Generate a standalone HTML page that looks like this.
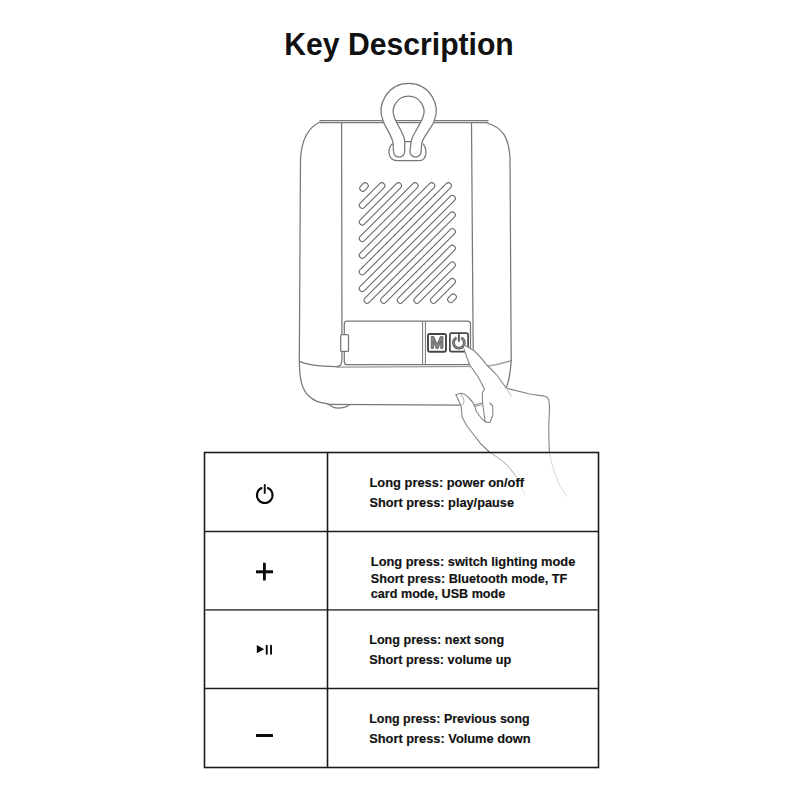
<!DOCTYPE html>
<html>
<head>
<meta charset="utf-8">
<style>
html,body{margin:0;padding:0;background:#fff;width:800px;height:800px;overflow:hidden;}
svg{position:absolute;left:0;top:0;display:block;}
.t{font-family:"Liberation Sans",sans-serif;font-weight:bold;fill:#111;}
.d{fill:none;stroke:#777;stroke-width:1.25;stroke-linecap:round;stroke-linejoin:round;}
.h{fill:none;stroke:#6a6a6a;stroke-width:0.9;stroke-linecap:round;stroke-linejoin:round;}
</style>
</head>
<body>
<svg width="800" height="800" viewBox="0 0 800 800">
  <!-- Title -->
  <text class="t" x="284.3" y="54.6" font-size="31.5" textLength="229.5" lengthAdjust="spacingAndGlyphs">Key Description</text>

  <!-- ===== Speaker drawing ===== -->
  <g class="d">
    <!-- top lines -->
    <path d="M320 120.6 L488 120.6"/>
    <path d="M320 122.6 L488 122.6"/>
    <!-- left outer -->
    <path d="M320 122 C309 127 302 138 300.5 158 L299.3 361.4 C299.5 372 300.5 381 302.6 386.6 C304.5 391 306 393.5 308.3 395.5 C311 398 313.5 400 316.4 401.2 C320 402.7 323.5 403.3 327 403.7 C329 404 330 405 331.5 406.3 C333.5 407.6 335.5 408.1 337.5 408.1 C340.5 408.1 343 407.7 345 407.1 C346.8 406.5 348 405.5 349.5 404.8"/>
    <!-- bottom line -->
    <path d="M328 404.4 L461 405.2"/>
    <!-- left inner vertical -->
    <path d="M341.6 123 L342 358 C342 361 341.6 363 340.8 364.6 C340 366 338 366.7 335.9 366.7 C331 366.6 326 366.3 320.5 365.9 C316 365.5 312 365 308.3 364.2 C305.5 363.6 303 362.8 299.3 361.4"/>
    <!-- separation line -->
    <path d="M336.7 367.1 L486 366.4 C496 365.2 504 363 511 360.7" style="stroke:#999"/>
    <!-- right inner vertical -->
    <path d="M471.5 123 L473.3 366"/>
    <!-- right outer -->
    <path d="M488 123.5 C502 127.5 509 137 510 158 L511.2 361 C510.5 372 509 381 506 388.5"/>
    <!-- lid -->
    <path d="M347.3 321.2 L467.5 321.2 Q470.5 321.2 470.5 324.2 L470.5 361.7 Q470.5 364.7 467.5 364.7 L347.3 364.7 Q344.3 364.7 344.3 361.7 L344.3 324.2 Q344.3 321.2 347.3 321.2 Z" fill="#fff"/>
    <!-- hinge tab -->
    <rect x="340.7" y="334.5" width="7.8" height="16.9" rx="1" style="fill:#fff"/>
    <path d="M422.6 321.5 L422.6 364.5" style="stroke-width:1"/>
    <path d="M425.4 321.5 L425.4 364.5" style="stroke-width:1"/>
  </g>

  <!-- buttons -->
  <rect x="428" y="334" width="18" height="17.7" rx="1.5" fill="#fff" stroke="#464646" stroke-width="1.9"/>
  <path d="M431.2 348.4 L431.2 336.6 L433.9 336.6 L437.1 344.2 L440.3 336.6 L443 336.6 L443 348.4 L440.7 348.4 L440.7 341.2 L438.3 348.4 L435.9 348.4 L433.5 341.2 L433.5 348.4 Z" fill="#858585" stroke="#555" stroke-width="0.7" stroke-linejoin="round"/>
  <rect x="449.9" y="333.2" width="18.2" height="18.5" rx="1.5" fill="#fff" stroke="#464646" stroke-width="1.7"/>
  <path d="M456.49 337.66 A5.5 5.5 0 1 0 461.31 337.66" fill="none" stroke="#555" stroke-width="2.8"/>
  <path d="M456.49 337.66 A5.5 5.5 0 1 0 461.31 337.66" fill="none" stroke="#a0a0a0" stroke-width="0.9"/>
  <path d="M458.9 334.9 L458.9 341" fill="none" stroke="#555" stroke-width="1.9" stroke-linecap="round"/>

  <!-- grille -->
  <g id="grille"><path d="M362.80 188.20L365.20 185.80M362.30 205.32L381.82 185.80M362.30 221.95L398.45 185.80M362.30 238.57L415.07 185.80M362.30 255.20L431.70 185.80M362.30 271.82L448.32 185.80M362.30 288.45L452.30 198.45M367.07 300.30L452.30 215.07M383.70 300.30L452.30 231.70M400.32 300.30L452.30 248.32M416.95 300.30L452.30 264.95M433.57 300.30L452.30 281.57M450.70 299.60L453.30 297.00" fill="none" stroke="#6a6a6a" stroke-width="7.06" stroke-linecap="round"/><path d="M362.80 188.20L365.20 185.80M362.30 205.32L381.82 185.80M362.30 221.95L398.45 185.80M362.30 238.57L415.07 185.80M362.30 255.20L431.70 185.80M362.30 271.82L448.32 185.80M362.30 288.45L452.30 198.45M367.07 300.30L452.30 215.07M383.70 300.30L452.30 231.70M400.32 300.30L452.30 248.32M416.95 300.30L452.30 264.95M433.57 300.30L452.30 281.57M450.70 299.60L453.30 297.00" fill="none" stroke="#fff" stroke-width="4.86" stroke-linecap="round"/></g>

  <!-- handle recess -->
  <path class="d" d="M392.4 144 C389.5 146 389 150 389 152.5 C389 157.5 392.5 160.7 397 160.7 L419 160.7 C423.5 160.7 426 157 426 152.5 C426 149 425 146 423.5 144"/>
  <!-- handle -->
  <path class="d" style="fill:#fff" d="M399.1 157.1 A5.6 5.6 0 0 1 393.5 151.5 L393.2 144 C393 138 386.7 129.3 383.5 122 A27.5 27.5 0 1 1 433.8 122 C430.6 129.3 422.2 138 421.7 144 L421.1 151.5 A5.6 5.6 0 0 1 415.5 157.1 A5.6 5.6 0 0 1 409.9 151.5 L411.1 141.5 C412.7 134 419.5 126.4 423 117 A15.4 15.4 0 1 0 394.2 117 C397.7 126.4 404.5 134 404.75 141.5 L404.7 151.5 A5.6 5.6 0 0 1 399.1 157.1 Z"/>
  <path class="d" d="M404.75 141.5 L411.1 141.5"/>

  <!-- hand -->
  <path style="fill:#fff;stroke:none" d="M464.75 345.25 C468 347 471 349 473.75 350.5 C479 355 483 360 486.5 364.75 C490 368 494 372 497 375.25 C500 379 503 384 506.25 388.1 C514 390 522 392 528.75 393.75 C535 395 541 395.5 545 396.25 C547 397 548.5 398 548.75 400 C549.5 404 549.5 408 549.4 411.25 C549 420 548.6 425 548.75 430 C549 440 549 446 549.4 452 L489.5 452 C486 449 483 446 480 443 C478 440 476.5 438.5 474.75 436 C472 432.7 469.5 429.5 467.25 426.25 C465.3 423 463.5 420 462 416.5 C461.8 413.5 461.7 410 461.25 406.75 C460.8 405 460 403.5 459 401.5 C458 399.5 457 397 456 394.75 C458 393.8 459.5 393.3 461.25 393.25 C464 393.5 466.5 395.5 468.75 397.75 C471 400 472.8 402 474 404.5 L483 403 L482.25 392.5 L484.5 389.5 C482 385 480 380 477.5 376 C475 373 473 369 470 365.5 C468 361 466 355 464 349 Z"/>
  <g class="d" style="stroke:#858585;stroke-width:1.1">
    <path d="M464.75 345.25 C468 347 471 349 473.75 350.5 C479 355 483 360 486.5 364.75 C490 368 494 372 497 375.25 C500 379 503 384 506.25 388.1 C514 390 522 392 528.75 393.75 C535 395 541 395.5 545 396.25 C547 397 548.5 398 548.75 400 C549.5 404 549.5 408 549.4 411.25 C549 420 548.6 425 548.75 430 C549 440 549 446 549.4 452"/>
    <path d="M464 349 C466 355 468 361 470 365.5 C473 369 475 373 477.5 376 C480 380 482.5 385 484.5 389.5 L482.25 392.5 C482.4 396 482.5 400 482.6 403 C483 406 483.4 409 483.75 411.25 C484.3 415 484.8 419 485.25 421.75 C486.5 422.4 488 422.6 489.75 422.5 C491 420 492.2 417 492.75 415 C492.9 412 492.8 409 492.75 406 C491.8 405 490.8 404 489.75 403"/>
    <path d="M456 394.75 C458 393.8 459.5 393.3 461.25 393.25 C464 393.5 466.5 395.5 468.75 397.75 C471 400 472.8 402 474 404.5 C475 406.5 475.6 409 476.25 411.25 C477.5 413 478.7 415 480 416.5 C481.5 418.5 483.5 420.5 485.25 421.75"/>
    <path d="M456 394.75 C457 397 458 399.5 459 401.5 C460 403.5 460.8 405 461.25 406.75 C461.7 410 461.8 413.5 462 416.5 C463.5 420 465.3 423 467.25 426.25 C469.5 429.5 472 432.7 474.75 436 C476.5 438.5 478 440 480 443 C483 446 486 449 489.5 452"/>
    <path d="M474 405.3 C476 404.3 479.5 403.5 482.6 403.2"/>
    <path d="M474.5 406.8 C476.5 405.8 479.5 405 482.6 404.8" style="stroke:#999"/>
    <path d="M461 394.5 C462.5 396 463.8 398.5 464 400.75 C464 402 463.5 403.5 462.75 404.5" style="stroke:#bbb"/>
    <path d="M506.25 388.1 L511.25 396.25" style="stroke:#ccc"/>
  </g>
  <g class="d" style="stroke-width:1">
    <path style="stroke:#d8d8d8" d="M549.4 452 C551 462 554 472 558 482 C561 488 564 492 567 496"/>
    <path style="stroke:#a8a8a8" d="M489.5 452 C494 455 500 459 505 463 C509 467 513 472 516.5 477.5"/>
    <path style="stroke:#e2e2e2" d="M516.5 477.5 C519 482 522 489 525 495"/>
  </g>

  <!-- ===== Table ===== -->
  <g fill="none" stroke="#1c1c1c" stroke-width="1.6">
    <rect x="204.5" y="452.5" width="394" height="315"/>
    <path d="M204.5 531.5 L598.5 531.5"/>
    <path d="M205.3 609.9 L597.7 609.9" stroke="#555" stroke-width="1.9"/>
    <path d="M204.5 688.5 L598.5 688.5"/>
    <path d="M327.5 452.5 L327.5 767.5"/>
  </g>

  <!-- icons -->
  <path d="M261.58 488.07 A7.8 7.8 0 1 0 267.92 488.07" fill="none" stroke="#0a0a0a" stroke-width="2.1" stroke-linecap="round"/>
  <path d="M264.75 485 L264.75 493" fill="none" stroke="#0a0a0a" stroke-width="1.9" stroke-linecap="round"/>
  <rect x="256" y="570.3" width="17" height="3" fill="#0a0a0a"/>
  <rect x="263" y="562.8" width="2.8" height="17.7" fill="#0a0a0a"/>
  <path d="M256.8 645 L264.2 649.2 L256.8 653.3 Z" fill="#0a0a0a"/>
  <rect x="265.8" y="644.8" width="1.9" height="9.9" rx="0.9" fill="#0a0a0a"/>
  <rect x="270.1" y="644.8" width="1.9" height="9.9" rx="0.9" fill="#0a0a0a"/>
  <rect x="256" y="734" width="17" height="3" rx="0.5" fill="#0a0a0a"/>

  <!-- texts -->
  <g class="t" font-size="12.6" stroke="#111" stroke-width="0.15">
    <text x="369.5" y="486.9" textLength="154.5" lengthAdjust="spacingAndGlyphs">Long press: power on/off</text>
    <text x="369.5" y="506.6" textLength="144.5" lengthAdjust="spacingAndGlyphs">Short press: play/pause</text>
    <text x="370.8" y="566.4" textLength="204.5" lengthAdjust="spacingAndGlyphs">Long press: switch lighting mode</text>
    <text x="370.8" y="583" textLength="196.5" lengthAdjust="spacingAndGlyphs">Short press: Bluetooth mode, TF</text>
    <text x="370.8" y="598.2" textLength="134.5" lengthAdjust="spacingAndGlyphs">card mode, USB mode</text>
    <text x="369.2" y="644.1" textLength="135" lengthAdjust="spacingAndGlyphs">Long press: next song</text>
    <text x="369.2" y="663.7" textLength="142" lengthAdjust="spacingAndGlyphs">Short press: volume up</text>
    <text x="369.2" y="722.7" textLength="160.5" lengthAdjust="spacingAndGlyphs">Long press: Previous song</text>
    <text x="369.2" y="742.5" textLength="161.5" lengthAdjust="spacingAndGlyphs">Short press: Volume down</text>
  </g>
</svg>
</body>
</html>
